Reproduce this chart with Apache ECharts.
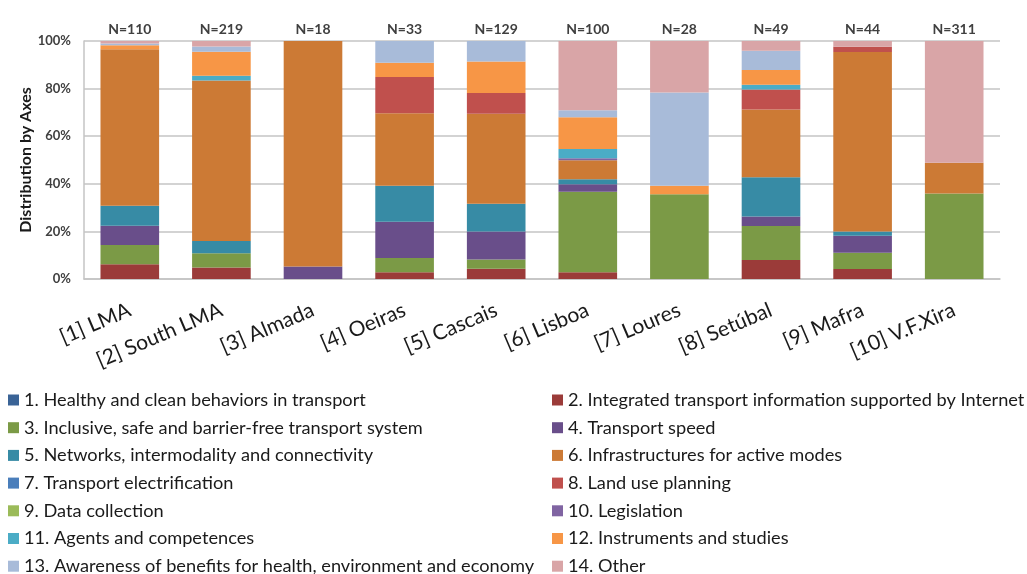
<!DOCTYPE html>
<html>
<head>
<meta charset="utf-8">
<script src="https://cdn.jsdelivr.net/npm/echarts@6/dist/echarts.min.js"></script>
<style>
  html, body { margin: 0; padding: 0; background: #fff; }
  #chart { width: 1027px; height: 574px; }
</style>
</head>
<body>
<div id="chart"></div>
<script>
const categories = ['[1] LMA', '[2] South LMA', '[3] Almada', '[4] Oeiras', '[5] Cascais', '[6] Lisboa', '[7] Loures', '[8] Setúbal', '[9] Mafra', '[10] V.F.Xira'];
const sampleSizes = ['N=110', 'N=219', 'N=18', 'N=33', 'N=129', 'N=100', 'N=28', 'N=49', 'N=44', 'N=311'];
const yTicks = [0, 20, 40, 60, 80, 100];

const axisNames = [
  '1. Healthy and clean behaviors in transport',
  '2. Integrated transport information supported by Internet',
  '3. Inclusive, safe and barrier-free transport system',
  '4. Transport speed',
  '5. Networks, intermodality and connectivity',
  '6. Infrastructures for active modes',
  '7. Transport electrification',
  '8. Land use planning',
  '9. Data collection',
  '10. Legislation',
  '11. Agents and competences',
  '12. Instruments and studies',
  '13. Awareness of benefits for health, environment and economy',
  '14. Other'
];

// percentage shares per category, one array per axis
const healthy      = [0, 0, 0, 0, 0, 0, 0, 0, 0, 0];
const integrated   = [6.2, 4.8, 0, 2.8, 4.3, 2.8, 0, 8.0, 4.2, 0];
const inclusive    = [8.1, 6.0, 0, 6.0, 3.9, 33.9, 35.6, 14.3, 6.8, 35.9];
const speed        = [8.1, 0, 5.2, 15.3, 11.8, 3.1, 0, 4.0, 7.2, 0];
const networks     = [8.4, 5.2, 0, 15.1, 11.6, 2.1, 0, 16.5, 1.8, 0];
const infra        = [65.7, 67.4, 94.8, 30.4, 37.8, 8.0, 0, 28.4, 75.4, 12.9];
const electrific   = [0, 0, 0, 0, 0, 0, 0, 0, 0, 0];
const landUse      = [0, 0, 0, 15.3, 8.7, 0, 0, 8.4, 2.2, 0];
const dataColl     = [0, 0, 0, 0, 0, 0, 0, 0, 0, 0];
const legislation  = [0, 0, 0, 0, 0, 0.8, 0, 0, 0, 0];
const agents       = [0, 2.0, 0, 0, 0, 3.9, 0, 2.0, 0, 0];
const instruments  = [1.7, 10.1, 0, 6.0, 13.3, 13.4, 3.6, 6.2, 0, 0];
const awareness    = [0.8, 2.2, 0, 9.1, 8.6, 2.9, 39.2, 8.1, 0, 0];
const other        = [1.0, 2.4, 0, 0, 0, 29.1, 21.6, 4.2, 2.5, 51.2];

const seriesValues = [healthy, integrated, inclusive, speed, networks, infra, electrific,
  landUse, dataColl, legislation, agents, instruments, awareness, other];

const colors = ['#3a6396', '#9b3b39', '#7b9a46', '#694e8a', '#378ba5', '#cc7a35', '#4a7ebb',
  '#c0504d', '#9bbb59', '#8064a2', '#4bacc6', '#f79646', '#a8bbd9', '#d9a5a7'];

const FONT = 'Lato, "Open Sans", sans-serif';

const chart = echarts.init(document.getElementById('chart'));

const series = seriesValues.map((vals, i) => ({
  name: axisNames[i],
  type: 'bar',
  stack: 'total',
  barWidth: '64%',
  itemStyle: { color: colors[i] },
  emphasis: { disabled: true },
  data: vals
}));

const legendTextStyle = { fontFamily: FONT, fontSize: 18.2, color: '#1a1a1a', lineHeight: 20 };

chart.setOption({
  animation: false,
  color: colors,
  grid: { left: 84, right: 27, top: 41, height: 238 },
  legend: [
    {
      orient: 'vertical', left: 3, top: 385, height: 240, itemGap: 7.7,
      itemWidth: 11, itemHeight: 11, icon: 'rect',
      textStyle: legendTextStyle,
      data: axisNames.filter((_, i) => i % 2 === 0)
    },
    {
      orient: 'vertical', left: 547, top: 385, height: 240, itemGap: 7.7,
      itemWidth: 11, itemHeight: 11, icon: 'rect',
      textStyle: legendTextStyle,
      data: axisNames.filter((_, i) => i % 2 === 1)
    }
  ],
  xAxis: [
    {
      type: 'category',
      data: categories,
      position: 'bottom',
      axisLine: { show: true, lineStyle: { color: '#c4c4c4', width: 1.5 } },
      axisTick: { show: false },
      axisLabel: { rotate: 23, margin: 30, fontFamily: FONT, fontSize: 21, color: '#1a1a1a', interval: 0 }
    },
    {
      type: 'category',
      data: sampleSizes,
      position: 'top',
      axisLine: { show: false },
      axisTick: { show: false },
      axisLabel: { margin: 5, fontFamily: FONT, fontSize: 14, fontWeight: 'bold', color: '#404040', interval: 0 }
    }
  ],
  yAxis: {
    type: 'value',
    min: yTicks[0],
    max: yTicks[yTicks.length - 1],
    interval: 20,
    name: 'Distribution by Axes',
    nameLocation: 'middle',
    nameGap: 50,
    nameMoveOverlap: false,
    nameTextStyle: { fontFamily: FONT, fontSize: 16, fontWeight: 'bold', color: '#1a1a1a' },
    axisLine: { show: true, lineStyle: { color: '#c4c4c4', width: 1.5 } },
    axisTick: { show: false },
    splitLine: { show: true, lineStyle: { color: '#c4c4c4', width: 1.5 } },
    axisLabel: { margin: 13, fontFamily: FONT, fontSize: 13, fontWeight: 'bold', color: '#404040', formatter: '{value}%' }
  },
  series: series
});
</script>
</body>
</html>
